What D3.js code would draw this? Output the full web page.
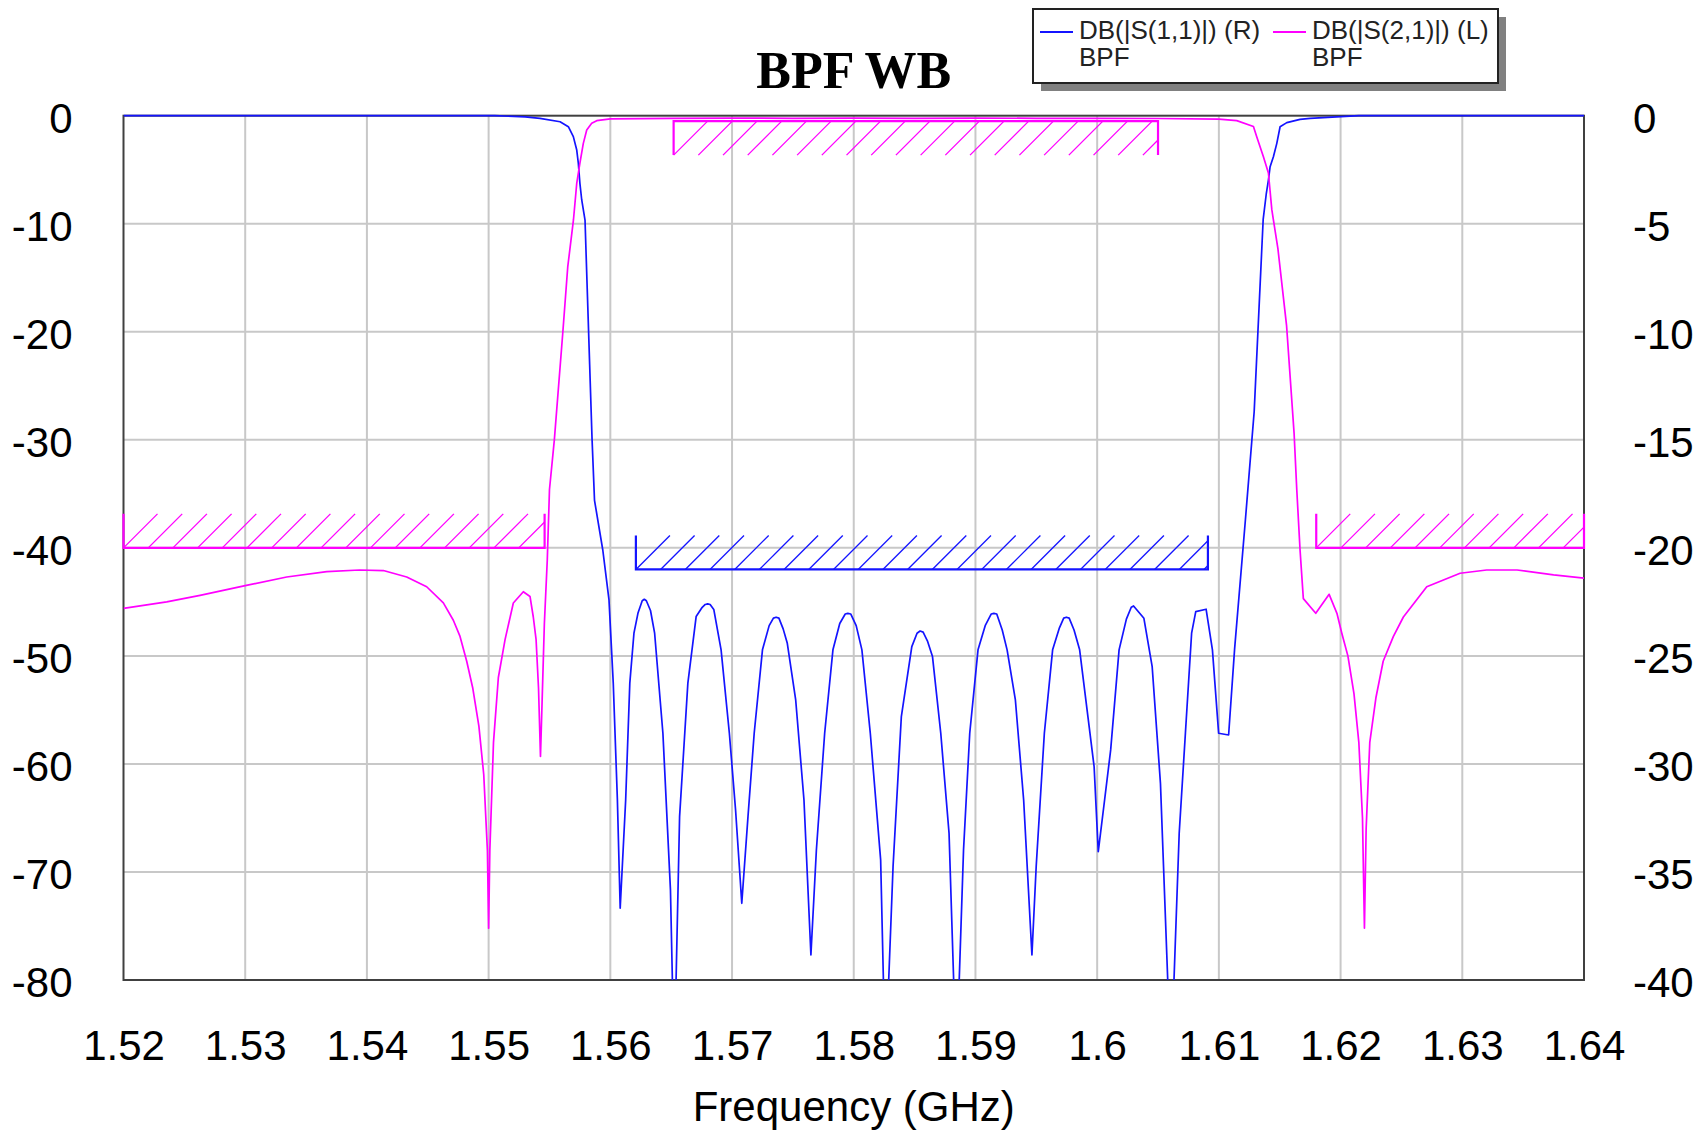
<!DOCTYPE html>
<meta charset="utf-8">
<style>
body { margin: 0; background: #fff; }
svg { display: block; background: #fff; }
.axis text { font-family: "Liberation Sans", Arial, sans-serif; font-size: 42px; fill: #000; }
.grid line { stroke: #c8c8c8; stroke-width: 2; }
.frame { fill: none; stroke: #404040; stroke-width: 2; }
.curve { fill: none; stroke-width: 1.7; stroke-linejoin: round; }
.legend text { font-family: "Liberation Sans", Arial, sans-serif; font-size: 26px; fill: #222; }
</style>
<svg width="1698" height="1131"></svg>
<script src="https://d3js.org/d3.v7.min.js"></script>
<script>

// tick labels
var xTicks = [1.52, 1.53, 1.54, 1.55, 1.56, 1.57, 1.58, 1.59, 1.6, 1.61, 1.62, 1.63, 1.64];
var leftTicks = [0, -10, -20, -30, -40, -50, -60, -70, -80];
var rightTicks = [0, -5, -10, -15, -20, -25, -30, -35, -40];

// DB(|S(1,1)|), right axis
var s11Freq = [1.52, 1.5505, 1.553, 1.55422, 1.55587, 1.55655, 1.55696, 1.55724, 1.55737, 1.5575,
  1.55765, 1.55792, 1.5581, 1.5583, 1.5585, 1.5587, 1.55938, 1.55989, 1.56024, 1.56058,
  1.56081, 1.56126, 1.5616, 1.56194, 1.56228, 1.56262, 1.56279, 1.56296, 1.5633, 1.56364,
  1.56432, 1.56494, 1.56525, 1.56569, 1.56637, 1.56705, 1.56755, 1.5678, 1.568, 1.5682,
  1.5685, 1.5691, 1.56978, 1.57029, 1.5708, 1.57131, 1.57182, 1.5725, 1.57305, 1.5734,
  1.57362, 1.57385, 1.5742, 1.57454, 1.57523, 1.57591, 1.57648, 1.57693, 1.57761, 1.57829,
  1.57885, 1.5793, 1.57951, 1.57975, 1.5802, 1.58067, 1.58136, 1.58221, 1.5826, 1.58323,
  1.58391, 1.58477, 1.5852, 1.58545, 1.5857, 1.58605, 1.58647, 1.58715, 1.58783, 1.58843,
  1.58902, 1.58953, 1.59021, 1.5908, 1.5913, 1.59151, 1.59175, 1.5922, 1.5926, 1.59328,
  1.59396, 1.59464, 1.59499, 1.59566, 1.59634, 1.5969, 1.59725, 1.59747, 1.5977, 1.5981,
  1.59856, 1.59924, 1.59975, 1.60009, 1.60061, 1.60111, 1.6018, 1.6024, 1.6028, 1.60299,
  1.60384, 1.60452, 1.6052, 1.60606, 1.60674, 1.60725, 1.60776, 1.6081, 1.60895, 1.60947,
  1.60998, 1.6108, 1.61129, 1.61218, 1.6129, 1.61364, 1.6139, 1.61407, 1.61421, 1.61448,
  1.61476, 1.61503, 1.61558, 1.61667, 1.61749, 1.6215, 1.64];
var s11Db = [0, 0, -0.05, -0.12, -0.28, -0.51, -0.97, -1.59, -2.2, -3.13,
  -3.9, -4.83, -8, -11.5, -15, -17.8, -20.1, -22.41, -26.26, -31.67,
  -36.68, -31.67, -26.26, -23.95, -23.0, -22.45, -22.38, -22.45, -22.9, -23.95,
  -28.58, -35.83, -44, -32.44, -26.26, -23.18, -22.75, -22.62, -22.59, -22.62,
  -22.85, -24.72, -28.58, -32.13, -36.45, -32.44, -28.58, -24.72, -23.6, -23.25,
  -23.21, -23.25, -23.75, -24.42, -27.04, -31.67, -38.84, -33.98, -28.58, -24.72,
  -23.5, -23.06, -23.03, -23.06, -23.6, -24.72, -28.58, -34.44, -44, -34.75,
  -27.81, -24.57, -23.95, -23.85, -23.9, -24.3, -25.03, -28.58, -33.21, -44,
  -33.98, -28.58, -24.72, -23.6, -23.06, -23.03, -23.06, -23.8, -24.72, -27.04,
  -31.67, -38.84, -34.75, -28.58, -24.72, -23.7, -23.25, -23.21, -23.25, -23.8,
  -24.72, -27.81, -30.13, -34.06, -31.67, -29.35, -24.72, -23.3, -22.75, -22.69,
  -23.26, -25.5, -30.9, -44, -33.21, -28.58, -23.95, -22.95, -22.84, -24.72,
  -28.58, -28.66, -24.7, -18.7, -13.7, -4.8, -3.59, -2.98, -2.36, -1.9,
  -1.28, -0.51, -0.32, -0.17, -0.12, 0, 0];

// DB(|S(2,1)|), left axis
var s21Freq = [1.52, 1.52355, 1.52629, 1.53, 1.53341, 1.5367, 1.5394, 1.54135, 1.54327, 1.54491,
  1.54628, 1.5471, 1.54765, 1.5482, 1.5487, 1.5492, 1.5496, 1.5499, 1.55, 1.5501,
  1.5504, 1.5508, 1.55135, 1.55203, 1.55285, 1.5534, 1.55367, 1.5539, 1.5541, 1.55426,
  1.5544, 1.55458, 1.55482, 1.555, 1.5554, 1.5561, 1.5565, 1.55697, 1.55724, 1.5575,
  1.55778, 1.55806, 1.55847, 1.55888, 1.56, 1.565, 1.57, 1.575, 1.58, 1.585,
  1.59, 1.595, 1.6, 1.605, 1.61, 1.61147, 1.61284, 1.61311, 1.61366, 1.61407,
  1.61435, 1.61448, 1.61485, 1.61556, 1.61618, 1.6164, 1.61667, 1.61694, 1.61796, 1.61906,
  1.6197, 1.6201, 1.6206, 1.6211, 1.6215, 1.6218, 1.62196, 1.6221, 1.6224, 1.6229,
  1.6235, 1.62434, 1.62516, 1.62708, 1.62982, 1.632, 1.6345, 1.6375, 1.64];
var s21Db = [-45.6, -45.0, -44.4, -43.5, -42.7, -42.2, -42.05, -42.1, -42.7, -43.6,
  -45.1, -46.7, -48.2, -50.5, -53, -56.5, -61, -68, -75.2, -68,
  -58, -52, -48.5, -45.1, -44.06, -44.5, -46.4, -48.5, -53, -59.3,
  -54, -47, -41.1, -34.6, -30, -20, -14, -9.65, -6.26, -4.4,
  -2.56, -1.32, -0.7, -0.46, -0.3, -0.24, -0.22, -0.24, -0.22, -0.24,
  -0.22, -0.24, -0.24, -0.26, -0.32, -0.46, -1.0, -1.94, -3.8, -5.3,
  -8.7, -9.65, -12.3, -19.4, -29.4, -34.6, -40.2, -44.7, -46.06, -44.3,
  -46.06, -47.9, -50, -53.5, -58, -65, -75.2, -66, -58, -53.9,
  -50.5, -48.2, -46.4, -43.6, -42.35, -42.05, -42.05, -42.5, -42.8];

// optimization goals: [start GHz, stop GHz, level dB]
var s21GoalLow = [1.52, 1.5546, -40];
var s21GoalPass = [1.5652, 1.605, -0.5];
var s21GoalHigh = [1.618, 1.64, -40];
var s11GoalPass = [1.5621, 1.6091, -21];

var svg = d3.select("svg");

var plotL = 123.5, plotR = 1584, plotT = 115.7, plotB = 980;

var x = d3.scaleLinear().domain([1.52, 1.64]).range([plotL, plotR]);
var yL = d3.scaleLinear().domain([-80, 0]).range([plotB, plotT]);
var yR = d3.scaleLinear().domain([-40, 0]).range([plotB, plotT]);

var blue = "#1414ff", magenta = "#ff00ff";

// grid
var grid = svg.append("g").attr("class", "grid");
grid.selectAll(".gx").data(xTicks.slice(1, -1)).enter().append("line")
    .attr("x1", d => x(d)).attr("x2", d => x(d))
    .attr("y1", plotT).attr("y2", plotB);
grid.selectAll(".gy").data(leftTicks.slice(1, -1)).enter().append("line")
    .attr("x1", plotL).attr("x2", plotR)
    .attr("y1", d => yL(d)).attr("y2", d => yL(d));

svg.append("rect").attr("class", "frame")
    .attr("x", plotL).attr("y", plotT)
    .attr("width", plotR - plotL).attr("height", plotB - plotT);

// axes
function fmt(d) { return String(d); }

svg.append("g").attr("class", "axis")
    .attr("transform", "translate(" + plotL + ",0)")
    .call(d3.axisLeft(yL).tickValues(leftTicks).tickSize(0).tickPadding(51).tickFormat(fmt))
    .call(g => g.select(".domain").remove())
    .selectAll("text").attr("dy", "0.4em");

svg.append("g").attr("class", "axis")
    .attr("transform", "translate(" + plotR + ",0)")
    .call(d3.axisRight(yR).tickValues(rightTicks).tickSize(0).tickPadding(49).tickFormat(fmt))
    .call(g => g.select(".domain").remove())
    .selectAll("text").attr("dy", "0.4em");

svg.append("g").attr("class", "axis")
    .attr("transform", "translate(0," + plotB + ")")
    .call(d3.axisBottom(x).tickValues(xTicks).tickSize(0).tickPadding(50).tickFormat(fmt))
    .call(g => g.select(".domain").remove());

svg.append("text")
    .attr("x", (plotL + plotR) / 2).attr("y", 1121)
    .attr("text-anchor", "middle")
    .style("font-family", '"Liberation Sans", Arial, sans-serif')
    .style("font-size", "42px")
    .text("Frequency (GHz)");

svg.append("text")
    .attr("x", (plotL + plotR) / 2).attr("y", 88)
    .attr("text-anchor", "middle")
    .style("font-family", '"Liberation Serif", "Times New Roman", serif')
    .style("font-weight", "bold")
    .style("font-size", "52px")
    .text("BPF WB");

// goals with hatching
var hatchH = 34, hatchStep = 24.7;

function drawGoal(goal, yScale, color, below) {
  var x0 = x(goal[0]), x1 = x(goal[1]), y0 = yScale(goal[2]);
  var yb = below ? y0 + hatchH : y0;      // hatch bottom
  var yt = below ? y0 : y0 - hatchH;      // hatch top
  var g = svg.append("g").attr("stroke", color).attr("fill", "none");
  var segs = [];
  for (var xs = x0; xs < x1 - 1; xs += hatchStep) {
    var xe = Math.min(xs + hatchH, x1);
    segs.push([xs, yb, xe, yb - (xe - xs)]);
  }
  g.selectAll("line.h").data(segs).enter().append("line")
      .attr("x1", d => d[0]).attr("y1", d => d[1])
      .attr("x2", d => d[2]).attr("y2", d => d[3])
      .attr("stroke-width", 1.3);
  g.append("path")
      .attr("d", "M" + x0 + "," + (below ? yb : yt) + "L" + x0 + "," + y0 +
                 "L" + x1 + "," + y0 + "L" + x1 + "," + (below ? yb : yt))
      .attr("stroke-width", 2.2);
}

drawGoal(s21GoalLow, yL, magenta, false);
drawGoal(s21GoalHigh, yL, magenta, false);
drawGoal(s21GoalPass, yL, magenta, true);
drawGoal(s11GoalPass, yR, blue, false);

// curves
svg.append("clipPath").attr("id", "plotclip")
  .append("rect").attr("x", plotL).attr("y", plotT - 3)
  .attr("width", plotR - plotL).attr("height", plotB - plotT + 3);

var s11 = s11Freq.map((f, i) => [f, s11Db[i]]);
var s21 = s21Freq.map((f, i) => [f, s21Db[i]]);

svg.append("path").attr("class", "curve")
    .attr("clip-path", "url(#plotclip)")
    .attr("stroke", blue)
    .attr("d", d3.line().x(d => x(d[0])).y(d => yR(d[1]))(s11));

svg.append("path").attr("class", "curve")
    .attr("clip-path", "url(#plotclip)")
    .attr("stroke", magenta)
    .attr("d", d3.line().x(d => x(d[0])).y(d => yL(d[1]))(s21));

// legend
var lg = svg.append("g").attr("class", "legend");
lg.append("rect").attr("x", 1041).attr("y", 17).attr("width", 465).attr("height", 74).attr("fill", "#808080");
lg.append("rect").attr("x", 1033).attr("y", 9).attr("width", 465).attr("height", 74)
    .attr("fill", "#fff").attr("stroke", "#222").attr("stroke-width", 2);

var entries = [
  {x: 1040, color: blue, label: "DB(|S(1,1)|) (R)"},
  {x: 1273, color: magenta, label: "DB(|S(2,1)|) (L)"}
];
entries.forEach(function(e) {
  lg.append("line").attr("x1", e.x).attr("x2", e.x + 33).attr("y1", 32).attr("y2", 32)
      .attr("stroke", e.color).attr("stroke-width", 2);
  lg.append("text").attr("x", e.x + 39).attr("y", 39).text(e.label);
  lg.append("text").attr("x", e.x + 39).attr("y", 66).text("BPF");
});

</script>
